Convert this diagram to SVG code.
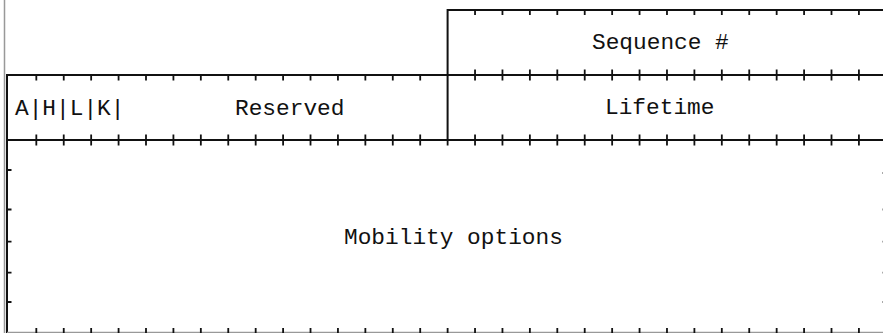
<svg xmlns="http://www.w3.org/2000/svg" width="883" height="333" viewBox="0 0 883 333">
<style>
.ln{stroke:#111;stroke-width:2;fill:none}
.tk{stroke:#111;stroke-width:1.8;fill:none}
.lt{stroke:#999;stroke-width:1.5;fill:none}
.tx{font-family:"Liberation Mono","Courier New",monospace;font-size:22.8px;fill:#111}
</style>
<rect width="883" height="333" fill="#fff"/>
<line class="lt" x1="4.5" y1="0" x2="4.5" y2="333"/>
<g id="seq">
<path class="ln" d="M447.6 75V10H890"/>
<text class="tx" x="592" y="48.5">Sequence #</text>
</g>
<g id="flags">
<path class="ln" d="M7 140V75H447.6"/>
<text class="tx" x="15" y="114.5">A|H|L|K|</text>
</g>
<g id="reserved">
<path class="ln" d="M7 140H447.6V75"/>
<text class="tx" x="235" y="114.5">Reserved</text>
</g>
<g id="lifetime">
<path class="ln" d="M447.6 75H890M447.6 140H890"/>
<text class="tx" x="605" y="113.5">Lifetime</text>
</g>
<g id="mobility">
<path class="ln" d="M7 140V334"/>
<path class="lt" d="M7 332.6H890"/>
<text class="tx" x="344" y="243.5">Mobility options</text>
</g>
<g id="connectors">
<path class="tk" d="M475.04 10V15M502.46 10V15M529.88 10V15M557.3 10V15M584.72 10V15M612.14 10V15M639.56 10V15M666.98 10V15M694.4 10V15M721.82 10V15M749.24 10V15M776.66 10V15M804.08 10V15M831.5 10V15M858.92 10V15"/>
<path class="tk" d="M36.32 75V80.5M63.74 75V80.5M91.16 75V80.5M118.58 75V80.5M146 75V80.5M173.42 75V80.5M200.84 75V80.5M228.26 75V80.5M255.68 75V80.5M283.1 75V80.5M310.52 75V80.5M337.94 75V80.5M365.36 75V80.5M392.78 75V80.5M420.2 75V80.5"/>
<path class="tk" d="M475.04 69.5V80.5M502.46 69.5V80.5M529.88 69.5V80.5M557.3 69.5V80.5M584.72 69.5V80.5M612.14 69.5V80.5M639.56 69.5V80.5M666.98 69.5V80.5M694.4 69.5V80.5M721.82 69.5V80.5M749.24 69.5V80.5M776.66 69.5V80.5M804.08 69.5V80.5M831.5 69.5V80.5M858.92 69.5V80.5"/>
<path class="tk" d="M36.32 134.5V145.5M63.74 134.5V145.5M91.16 134.5V145.5M118.58 134.5V145.5M146 134.5V145.5M173.42 134.5V145.5M200.84 134.5V145.5M228.26 134.5V145.5M255.68 134.5V145.5M283.1 134.5V145.5M310.52 134.5V145.5M337.94 134.5V145.5M365.36 134.5V145.5M392.78 134.5V145.5M420.2 134.5V145.5M447.62 140V145.5M475.04 134.5V145.5M502.46 134.5V145.5M529.88 134.5V145.5M557.3 134.5V145.5M584.72 134.5V145.5M612.14 134.5V145.5M639.56 134.5V145.5M666.98 134.5V145.5M694.4 134.5V145.5M721.82 134.5V145.5M749.24 134.5V145.5M776.66 134.5V145.5M804.08 134.5V145.5M831.5 134.5V145.5M858.92 134.5V145.5"/>
<path class="tk" d="M36.32 328V333M63.74 328V333M91.16 328V333M118.58 328V333M146 328V333M173.42 328V333M200.84 328V333M228.26 328V333M255.68 328V333M283.1 328V333M310.52 328V333M337.94 328V333M365.36 328V333M392.78 328V333M420.2 328V333M447.62 328V333M475.04 328V333M502.46 328V333M529.88 328V333M557.3 328V333M584.72 328V333M612.14 328V333M639.56 328V333M666.98 328V333M694.4 328V333M721.82 328V333M749.24 328V333M776.66 328V333M804.08 328V333M831.5 328V333M858.92 328V333"/>
<path class="tk" d="M7 170H11.5M7 209.5H11.5M7 241.7H11.5M7 272.7H11.5M7 302H11.5"/>
<path class="tk" style="stroke:#aaa" d="M882 173H886M882 209.5H886M882 241.7H886M882 272.7H886M882 302H886"/>
</g>
</svg>
